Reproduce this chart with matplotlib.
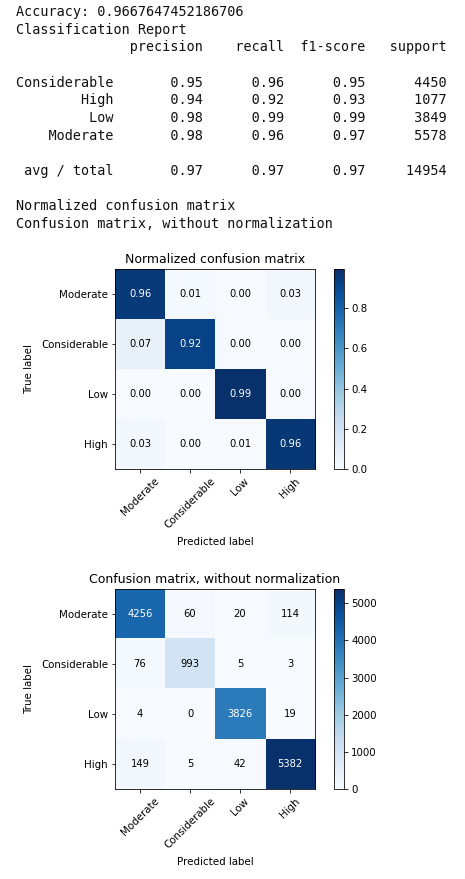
import numpy as np
import matplotlib
matplotlib.use('Agg')
import matplotlib.pyplot as plt

# classification report values
accuracy = 0.9667647452186706
report_classes = ['Considerable', 'High', 'Low', 'Moderate']
precision = [0.95, 0.94, 0.98, 0.98]
recall = [0.96, 0.92, 0.99, 0.96]
f1 = [0.95, 0.93, 0.99, 0.97]
support = [4450, 1077, 3849, 5578]
avg_total = [0.97, 0.97, 0.97, 14954]

# confusion matrix (counts) and its labels
cm_labels = ['Moderate', 'Considerable', 'Low', 'High']
cm_counts = np.array([[4256, 60, 20, 114],
                      [76, 993, 5, 3],
                      [4, 0, 3826, 19],
                      [149, 5, 42, 5382]])

# build the printed text the same way the old sklearn report did
width = max(len(c) for c in report_classes + ['avg / total'])
headers = ['precision', 'recall', 'f1-score', 'support']
head_fmt = '{:>{width}s} ' + ' {:>9}' * len(headers)
row_fmt = '{:>{width}s} ' + ' {:>9.2f}' * 3 + ' {:>9}'
lines = ['Accuracy: ' + str(accuracy), 'Classification Report']
lines.append(head_fmt.format('', *headers, width=width))
lines.append('')
for i, c in enumerate(report_classes):
    lines.append(row_fmt.format(c, precision[i], recall[i], f1[i], support[i], width=width))
lines.append('')
lines.append(row_fmt.format('avg / total', *avg_total, width=width))
lines.append('')
lines.append('Normalized confusion matrix')
lines.append('Confusion matrix, without normalization')

W, H = 465, 879
fig = plt.figure(figsize=(W / 72, H / 72), dpi=72)
plt.rcParams['xtick.labelsize'] = 10.3
plt.rcParams['ytick.labelsize'] = 10.3

for i, ln in enumerate(lines):
    fig.text(16 / W, 1 - (12 + 17.67 * i) / H, ln, family='DejaVu Sans Mono',
             fontsize=13.5, va='center', ha='left', color='#111111')


def plot_cm(cm, top_px, title, fmt):
    ax = fig.add_axes([115 / W, 1 - (top_px + 200) / H, 200 / W, 200 / H])
    cax = fig.add_axes([334 / W, 1 - (top_px + 200) / H, 10 / W, 200 / H])
    im = ax.imshow(cm, interpolation='nearest', cmap=plt.cm.Blues, aspect='auto')
    ax.set_title(title, fontsize=12.5)
    fig.colorbar(im, cax=cax)
    ticks = np.arange(len(cm_labels))
    ax.set_xticks(ticks)
    ax.set_xticklabels(cm_labels, rotation=45)
    ax.set_yticks(ticks)
    ax.set_yticklabels(cm_labels)
    thresh = cm.max() / 2.
    for i in range(cm.shape[0]):
        for j in range(cm.shape[1]):
            ax.text(j, i, format(cm[i, j], fmt), ha='center', va='center', fontsize=10,
                    color='white' if cm[i, j] > thresh else 'black')
    ax.set_ylabel('True label', fontsize=10.3, labelpad=7)
    ax.set_xlabel('Predicted label', fontsize=10.3, labelpad=6)


cm_norm = cm_counts.astype(float) / cm_counts.sum(axis=1)[:, np.newaxis]
plot_cm(cm_norm, 269, 'Normalized confusion matrix', '.2f')
plot_cm(cm_counts, 589, 'Confusion matrix, without normalization', 'd')

fig.savefig('out.png', dpi=72)
